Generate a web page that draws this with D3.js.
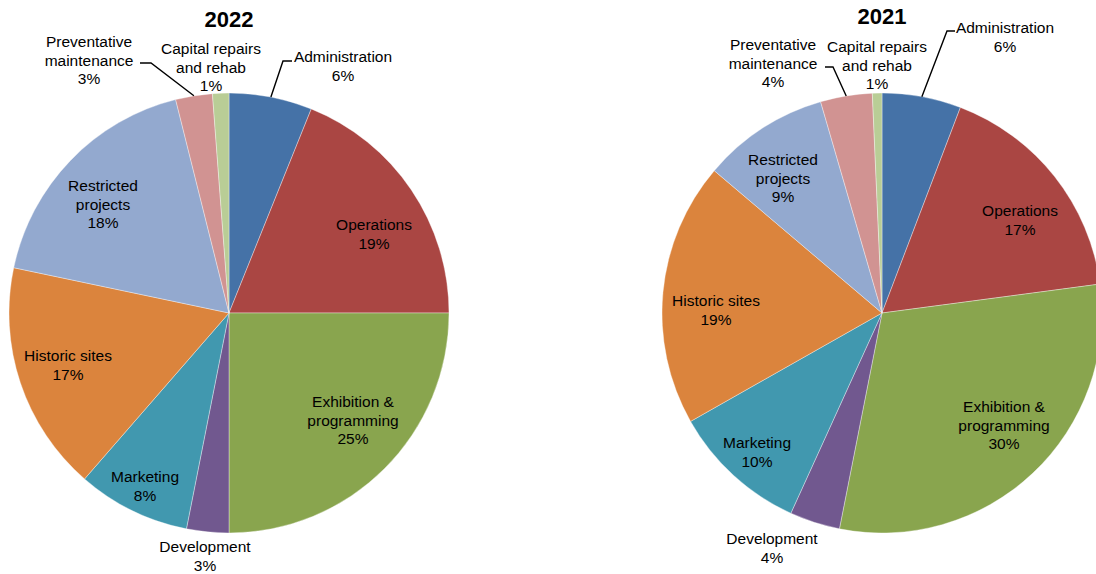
<!DOCTYPE html>
<html>
<head>
<meta charset="utf-8" />
<title>Spending by category, 2022 and 2021</title>
<script src="https://d3js.org/d3.v7.min.js"></script>
<style>
body { margin: 0; background: #fff; }
svg { display: block; font-family: "Liberation Sans", Arial, sans-serif; }
.lbl { font-size: 15.5px; fill: #000; }
.title { font-size: 22px; font-weight: bold; fill: #000; }
.leader { fill: none; stroke: #000; stroke-width: 1.4px; }
</style>
</head>
<body>
<div id="chart"></div>
<script>
// data
var categories = ["Administration", "Operations", "Exhibition & programming", "Development",
    "Marketing", "Historic sites", "Restricted projects", "Preventative maintenance",
    "Capital repairs and rehab"];
var values2022 = [6.1, 18.9, 25.0, 3.1, 8.3, 16.9, 17.8, 2.7, 1.2];
var values2021 = [5.8, 17.1, 30.2, 3.7, 10.0, 19.4, 9.3, 3.8, 0.7];
var labelLines = [["Administration"], ["Operations"], ["Exhibition &", "programming"], ["Development"],
    ["Marketing"], ["Historic sites"], ["Restricted", "projects"], ["Preventative", "maintenance"],
    ["Capital repairs", "and rehab"]];
var colors = ["#4572A7", "#AA4643", "#89A54E", "#71588F", "#4198AF", "#DB843D", "#93A9CF", "#D19392", "#B9CD96"];

// label placement, relative to pie centre (x, y of first line)
var place2022 = [[114, -256], [145, -88], [124, 89], [-24, 234], [-84, 164], [-161, 43], [-126, -127], [-140, -271], [-18, -264]];
var place2021 = [[123, -285], [138, -102], [122, 94], [-110, 226], [-125, 130], [-166, -12], [-99, -153], [-109, -268], [-5, -266]];
var leaders2022 = [{i: 0, elbow: [54, -252], end: [63, -252]}, {i: 7, elbow: [-78, -250], end: [-89, -250]}];
var leaders2021 = [{i: 0, elbow: [65, -282], end: [73, -282]}, {i: 7, elbow: [-49, -246], end: [-57, -246]}];

var width = 1096, height = 574, radius = 220, lineH = 18.5;

var svg = d3.select("#chart").append("svg")
    .attr("width", width)
    .attr("height", height);

var color = d3.scaleOrdinal().domain(categories).range(colors);

function drawPie(title, values, cx, cy, titleY, place, leaders) {
    var data = categories.map(function(c, i) { return {name: c, value: values[i], i: i}; });
    var pie = d3.pie().sort(null).value(function(d) { return d.value; });
    var arc = d3.arc().innerRadius(0).outerRadius(radius);
    var arcs = pie(data);
    var total = d3.sum(values);

    var g = svg.append("g").attr("transform", "translate(" + cx + "," + cy + ")");

    g.selectAll("path.slice")
        .data(arcs)
        .enter().append("path")
        .attr("class", "slice")
        .attr("d", arc)
        .attr("fill", function(d) { return color(d.data.name); })
        .attr("stroke", "#fff")
        .attr("stroke-opacity", 0.6)
        .attr("stroke-width", 0.6);

    svg.append("text")
        .attr("class", "title")
        .attr("x", cx)
        .attr("y", titleY)
        .attr("text-anchor", "middle")
        .text(title);

    // leader lines: from slice edge at mid angle to elbow, then to label
    leaders.forEach(function(l) {
        var a = arcs[l.i];
        var mid = (a.startAngle + a.endAngle) / 2;
        var p0 = [Math.sin(mid) * radius, -Math.cos(mid) * radius];
        g.append("path")
            .attr("class", "leader")
            .attr("d", d3.line()([p0, l.elbow, l.end]));
    });

    var labels = g.selectAll("text.lbl")
        .data(arcs)
        .enter().append("text")
        .attr("class", "lbl")
        .attr("text-anchor", "middle")
        .attr("transform", function(d) { var p = place[d.data.i]; return "translate(" + p[0] + "," + p[1] + ")"; });

    labels.each(function(d) {
        var t = d3.select(this);
        var lines = labelLines[d.data.i].concat([Math.round(d.data.value / total * 100) + "%"]);
        lines.forEach(function(s, k) {
            t.append("tspan")
                .attr("x", 0)
                .attr("y", k * lineH)
                .attr("dy", "0.35em")
                .text(s);
        });
    });
}

drawPie("2022", values2022, 229, 313, 27, place2022, leaders2022);
drawPie("2021", values2021, 882, 313, 24, place2021, leaders2021);
</script>
</body>
</html>
